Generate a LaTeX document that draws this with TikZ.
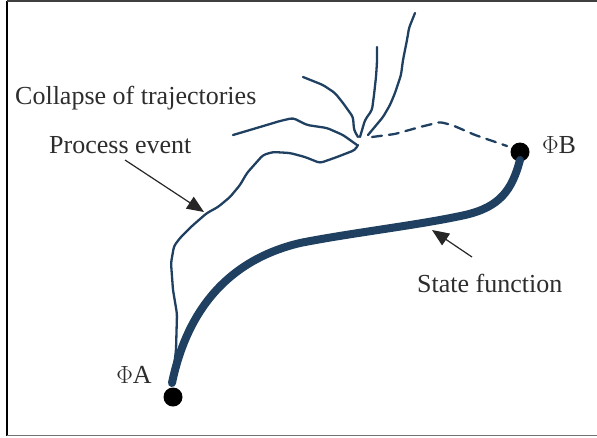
\documentclass[tikz,border=0pt]{standalone}
\usepackage{fontspec}
\setmainfont{Liberation Serif}
\usetikzlibrary{arrows.meta}
\definecolor{traj}{RGB}{31,64,96}
\definecolor{txt}{RGB}{45,45,45}
\tikzset{
  thintraj/.style={draw=traj, line width=2.3pt, line join=round, line cap=round, rounded corners=3pt},
  thicktraj/.style={draw=traj, line width=8pt, line cap=round},
  statedot/.style={circle, fill=black, inner sep=0pt, minimum size=19pt},
  lbl/.style={text=txt, font=\fontsize{26}{30}\selectfont, inner sep=0pt},
  pointer/.style={draw=black!85, line width=1.2pt, -{Triangle[length=17pt,width=14pt]}}
}
\begin{document}
\begin{tikzpicture}[x=1pt,y=-1pt]
\useasboundingbox (0,0) rectangle (597,437);
% frame
\draw[line width=1.8pt, black] (7,1) -- (7,436);
\draw[line width=1.4pt, black!75] (7,1) -- (597,1);
\draw[line width=1.4pt, black!55] (7,435.5) -- (597,435.5);

% state dots
\node[statedot] (A) at (173,397) {};
\node[statedot] (B) at (520,152) {};
\node[lbl] (lA) at (134,375) {$\Phi$A};
\node[lbl] (lB) at (559,145) {$\Phi$B};

% junction point
\coordinate (A0) at (172,383);
\coordinate (B0) at (520,160);

% thick state function
\draw[thicktraj] (A0) .. controls (185,320) and (220,262) .. (300,243)
  .. controls (350,233) and (420,225) .. (465,215)
  .. controls (500,207) and (512,190) .. (B0);
\coordinate (SF) at (432,230);

% thin trajectory from A to junction
\draw[thintraj] (A0) -- (176,350) -- (177,314) -- (173,290) -- (171,263) -- (174,246)
  -- (180,238) -- (192,226) -- (200,219) -- (207,213) -- (218,207) -- (230,197)
  -- (240,185) -- (247,173) -- (255,164) -- (263,155) -- (273,152) -- (290,153)
  -- (305,157) -- (320,163) -- (337,157) -- (355,150) -- (358,145);
\coordinate (PE) at (204,212);

% branches
\draw[thintraj] (233,135) -- (260,127) -- (280,121) -- (293,118) -- (307,125)
  -- (327,128) -- (343,135) -- (357,145);
\draw[thintraj] (303,77) -- (323,85) -- (335,93) -- (343,103) -- (353,117)
  -- (354,130) -- (358,137);
\draw[thintraj] (377,47) -- (377,62) -- (376,77) -- (374,95) -- (372,110)
  -- (365,120) -- (360,137);
\draw[thintraj] (415,13) -- (409,28) -- (407,40) -- (403,60) -- (401,75)
  -- (395,93) -- (390,105) -- (383,117) -- (368,135);

% dashed continuation
\draw[thintraj, dash pattern=on 10pt off 7pt] (372,137) -- (395,134)
  -- (420,127) -- (440,122) -- (452,125) -- (475,135) -- (507,146);

% labels
\node[lbl, anchor=west] (lC) at (15,98) {Collapse of trajectories};
\node[lbl, anchor=west] (lP) at (49,145) {Process event};
\node[lbl, anchor=west] (lS) at (417,283) {State function};

% pointers
\draw[pointer] (125,160) -- (PE);
\draw[pointer] (472,257) -- (SF);
\end{tikzpicture}
\end{document}
